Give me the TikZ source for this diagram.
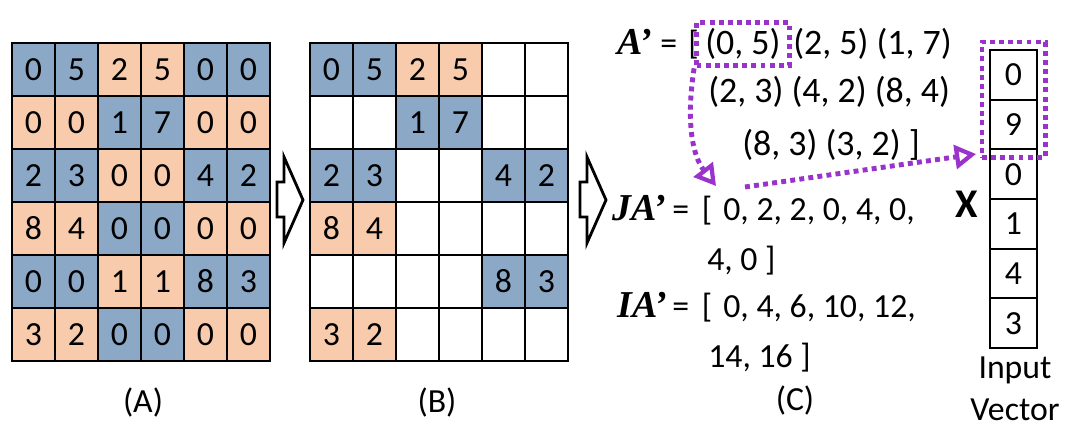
\documentclass[tikz,border=0pt]{standalone}
\usepackage{fontspec}
\setmainfont{Carlito}
\newfontfamily\eqfont{Liberation Serif}
\definecolor{CellBlue}{RGB}{139,168,199}
\definecolor{CellPeach}{RGB}{248,203,173}
\definecolor{HopPurple}{RGB}{153,51,204}
\usetikzlibrary{arrows.meta, positioning, fit}
\newcommand{\eqlab}[1]{{\fontsize{27}{30}\selectfont\eqfont\bfseries\itshape #1}}

\begin{document}
\begin{tikzpicture}[x=0.025cm, y=-0.025cm,
    cell/.style={draw, line width=1.4pt, minimum width=1.075cm, minimum height=1.325cm,
                 inner sep=0pt, font=\fontsize{24}{28}\selectfont},
    vcell/.style={cell, minimum width=1.175cm, minimum height=1.24cm},
    txt/.style={inner sep=0pt, font=\fontsize{24}{28}\selectfont},
    tup/.style={txt, anchor=base west, font=\fontsize{25.5}{28}\selectfont},
    blockarr/.style={draw, fill=white, line width=2pt, line join=miter},
    hopbox/.style={draw=HopPurple, line width=3.5pt, dash pattern=on 3.5pt off 3pt},
    hop/.style={hopbox, -{Triangle[open, length=15pt, width=17pt, line width=3pt]}}
  ]
    \useasboundingbox (0,0) rectangle (1076,427);

    % Matrix (A)
    \foreach \r/\vals in {0/{0,5,2,5,0,0}, 1/{0,0,1,7,0,0}, 2/{2,3,0,0,4,2},
                          3/{8,4,0,0,0,0}, 4/{0,0,1,1,8,3}, 5/{3,2,0,0,0,0}} {
      \foreach \v [count=\c from 0] in \vals {
        \pgfmathtruncatemacro\pair{mod(\r+int(\c/2),2)}
        \ifnum\pair=0 \def\cellcol{CellBlue}\else\def\cellcol{CellPeach}\fi
        \node[cell, fill=\cellcol] (a-\r-\c) at ({33.5+43*\c}, {69.5+53*\r}) {\v};
      }
    }
    % Matrix (B), - marks a dropped cell
    \foreach \r/\vals in {0/{0,5,2,5,-,-}, 1/{-,-,1,7,-,-}, 2/{2,3,-,-,4,2},
                          3/{8,4,-,-,-,-}, 4/{-,-,-,-,8,3}, 5/{3,2,-,-,-,-}} {
      \foreach \v [count=\c from 0] in \vals {
        \pgfmathtruncatemacro\pair{mod(\r+int(\c/2),2)}
        \ifnum\pair=0 \def\cellcol{CellBlue}\else\def\cellcol{CellPeach}\fi
        \if\v-\def\cellcol{white}\def\cellval{}\else\let\cellval\v\fi
        \node[cell, fill=\cellcol] (b-\r-\c) at ({331.5+43*\c}, {69.5+53*\r}) {\cellval};
      }
    }
    \node[txt] (labA) at (143,402) {(A)};
    \node[txt] (labB) at (437,402) {(B)};

    % Hollow arrows
    \foreach \dx in {0,303} {
      \draw[blockarr] (277+\dx,182) -- (284+\dx,182) -- (284+\dx,157) -- (303+\dx,200)
        -- (284+\dx,243) -- (284+\dx,217) -- (277+\dx,217) -- cycle;
    }

    % Compressed form (C)
    \node[txt, anchor=base west] (alab) at (617,55) {\eqlab{A’}};
    \node[txt, anchor=base west] (aeq) at (660,55) {=\hspace{8pt}[};
    \node[tup] (a05) at (705,55) {(0, 5)};
    \node[tup] (arest) at (793,55) {(2, 5) (1, 7)};
    \node[tup] (aline2) at (708,103) {(2, 3) (4, 2) (8, 4)};
    \node[tup] (aline3) at (742,155) {(8, 3) (3, 2) ]};
    \node[txt, anchor=base west] (jalab) at (612,220) {\eqlab{JA’}};
    \node[txt, anchor=base west] (javal) at (672,220)
      {=\hspace{9pt}[\hspace{8pt}0, 2, 2, 0, 4, 0,};
    \node[txt, anchor=base west] (jaline2) at (707,270) {4, 0 ]};
    \node[txt, anchor=base west] (ialab) at (617,317) {\eqlab{IA’}};
    \node[txt, anchor=base west] (iaval) at (672,317)
      {=\hspace{9pt}[\hspace{8pt}0, 4, 6, 10, 12,};
    \node[txt, anchor=base west] (ialine2) at (708,367) {14, 16 ]};
    \node[txt] (labC) at (795,400) {(C)};

    % Input vector
    \foreach \v [count=\r from 0] in {0,9,0,1,4,3} {
      \node[vcell] (v\r) at (1013.5, {74.8+49.7*\r}) {\v};
    }
    \node[txt, font=\fontsize{29}{32}\selectfont\bfseries] (xlab) at (967,204) {X};
    \node[txt, anchor=base] (ivlab1) at (1015,378) {Input};
    \node[txt, anchor=base] (ivlab2) at (1015,420) {Vector};

    % Highlighted lookups
    \node[hopbox, fit=(a05), inner xsep=6pt, inner ysep=4pt] (sel) {};
    \node[hopbox, fit=(v0)(v1), inner sep=5pt] (xsel) {};
    \coordinate (jain) at (716,186);
    \coordinate (jaout) at (745,187);
    \coordinate (xin) at (976,154);
    \draw[hop] (sel.south west) .. controls (686,120) and (692,155) .. (jain);
    \draw[hop] (jaout) -- (xin);
  \end{tikzpicture}
\end{document}
